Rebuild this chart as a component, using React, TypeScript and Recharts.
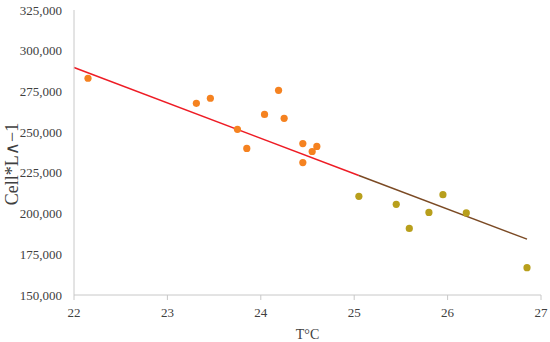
import React from 'react';
import {
  ScatterChart, Scatter, XAxis, YAxis, ReferenceLine, Label
} from 'recharts';

// orange group (lower temperatures)
const orangeT = [22.15, 23.31, 23.46, 23.75, 23.85, 24.04, 24.19, 24.25, 24.45, 24.45, 24.55, 24.6];
const orangeCells = [283100, 267700, 270800, 251700, 240000, 260900, 275700, 258500, 243000, 231300, 238100, 241200];

// gold group (higher temperatures)
const goldT = [25.05, 25.45, 25.59, 25.8, 25.95, 26.2, 26.85];
const goldCells = [210600, 205700, 190900, 200700, 211600, 200400, 166800];

// linear trend pieces
const redTrend = [{ x: 22, y: 289700 }, { x: 25.05, y: 223400 }];
const brownTrend = [{ x: 25.05, y: 223400 }, { x: 26.85, y: 184300 }];

const xTicks = [22, 23, 24, 25, 26, 27];
const yTicks = [150000, 175000, 200000, 225000, 250000, 275000, 300000, 325000];

const orangeData = orangeT.map((t, i) => ({ t, cells: orangeCells[i] }));
const goldData = goldT.map((t, i) => ({ t, cells: goldCells[i] }));

const font = '"Liberation Serif", "DejaVu Serif", serif';
const tickStyle = { fill: '#404040', fontSize: 13, fontFamily: font };

const dot = (color: string) => (p: any) => (
  <circle cx={p.cx} cy={p.cy} r={3.6} fill={color} />
);

const App: React.FC = () => {
  return (
    <div style={{ position: 'absolute', left: 0, top: 0, width: 550, height: 342, background: '#fff' }}>
      <ScatterChart width={550} height={342} margin={{ top: 10, right: 9, bottom: 0, left: 0 }}>
        <XAxis
          type="number"
          dataKey="t"
          domain={[22, 27]}
          ticks={xTicks}
          allowDataOverflow
          stroke="#c8c8c8"
          tickSize={5}
          tickMargin={8}
          tick={tickStyle}
          height={47}
        >
          <Label value="T°C" position="insideBottom" offset={3} style={{ fill: '#404040', fontSize: 14, fontFamily: font }} />
        </XAxis>
        <YAxis
          type="number"
          dataKey="cells"
          domain={[150000, 325000]}
          ticks={yTicks}
          allowDataOverflow
          stroke="#c8c8c8"
          tickLine={false}
          tickSize={0}
          tickMargin={12}
          width={74}
          tick={tickStyle}
          tickFormatter={(v: number) => v.toLocaleString('en-US')}
        >
          <Label
            content={() => (
              <text
                transform="translate(18,164) rotate(-90)"
                textAnchor="middle"
                fill="#404040"
                fontSize={18}
                fontFamily={font}
              >
                Cell*L∧−1
              </text>
            )}
          />
        </YAxis>
        <ReferenceLine
          segment={redTrend}
          stroke="#ee1c25"
          strokeWidth={1.5}
          ifOverflow="visible"
        />
        <ReferenceLine
          segment={brownTrend}
          stroke="#7b4a24"
          strokeWidth={1.5}
          ifOverflow="visible"
        />
        <Scatter data={orangeData} fill="#f58220" shape={dot('#f58220')} isAnimationActive={false} />
        <Scatter data={goldData} fill="#b89f1c" shape={dot('#b89f1c')} isAnimationActive={false} />
      </ScatterChart>
    </div>
  );
};

export default App;
